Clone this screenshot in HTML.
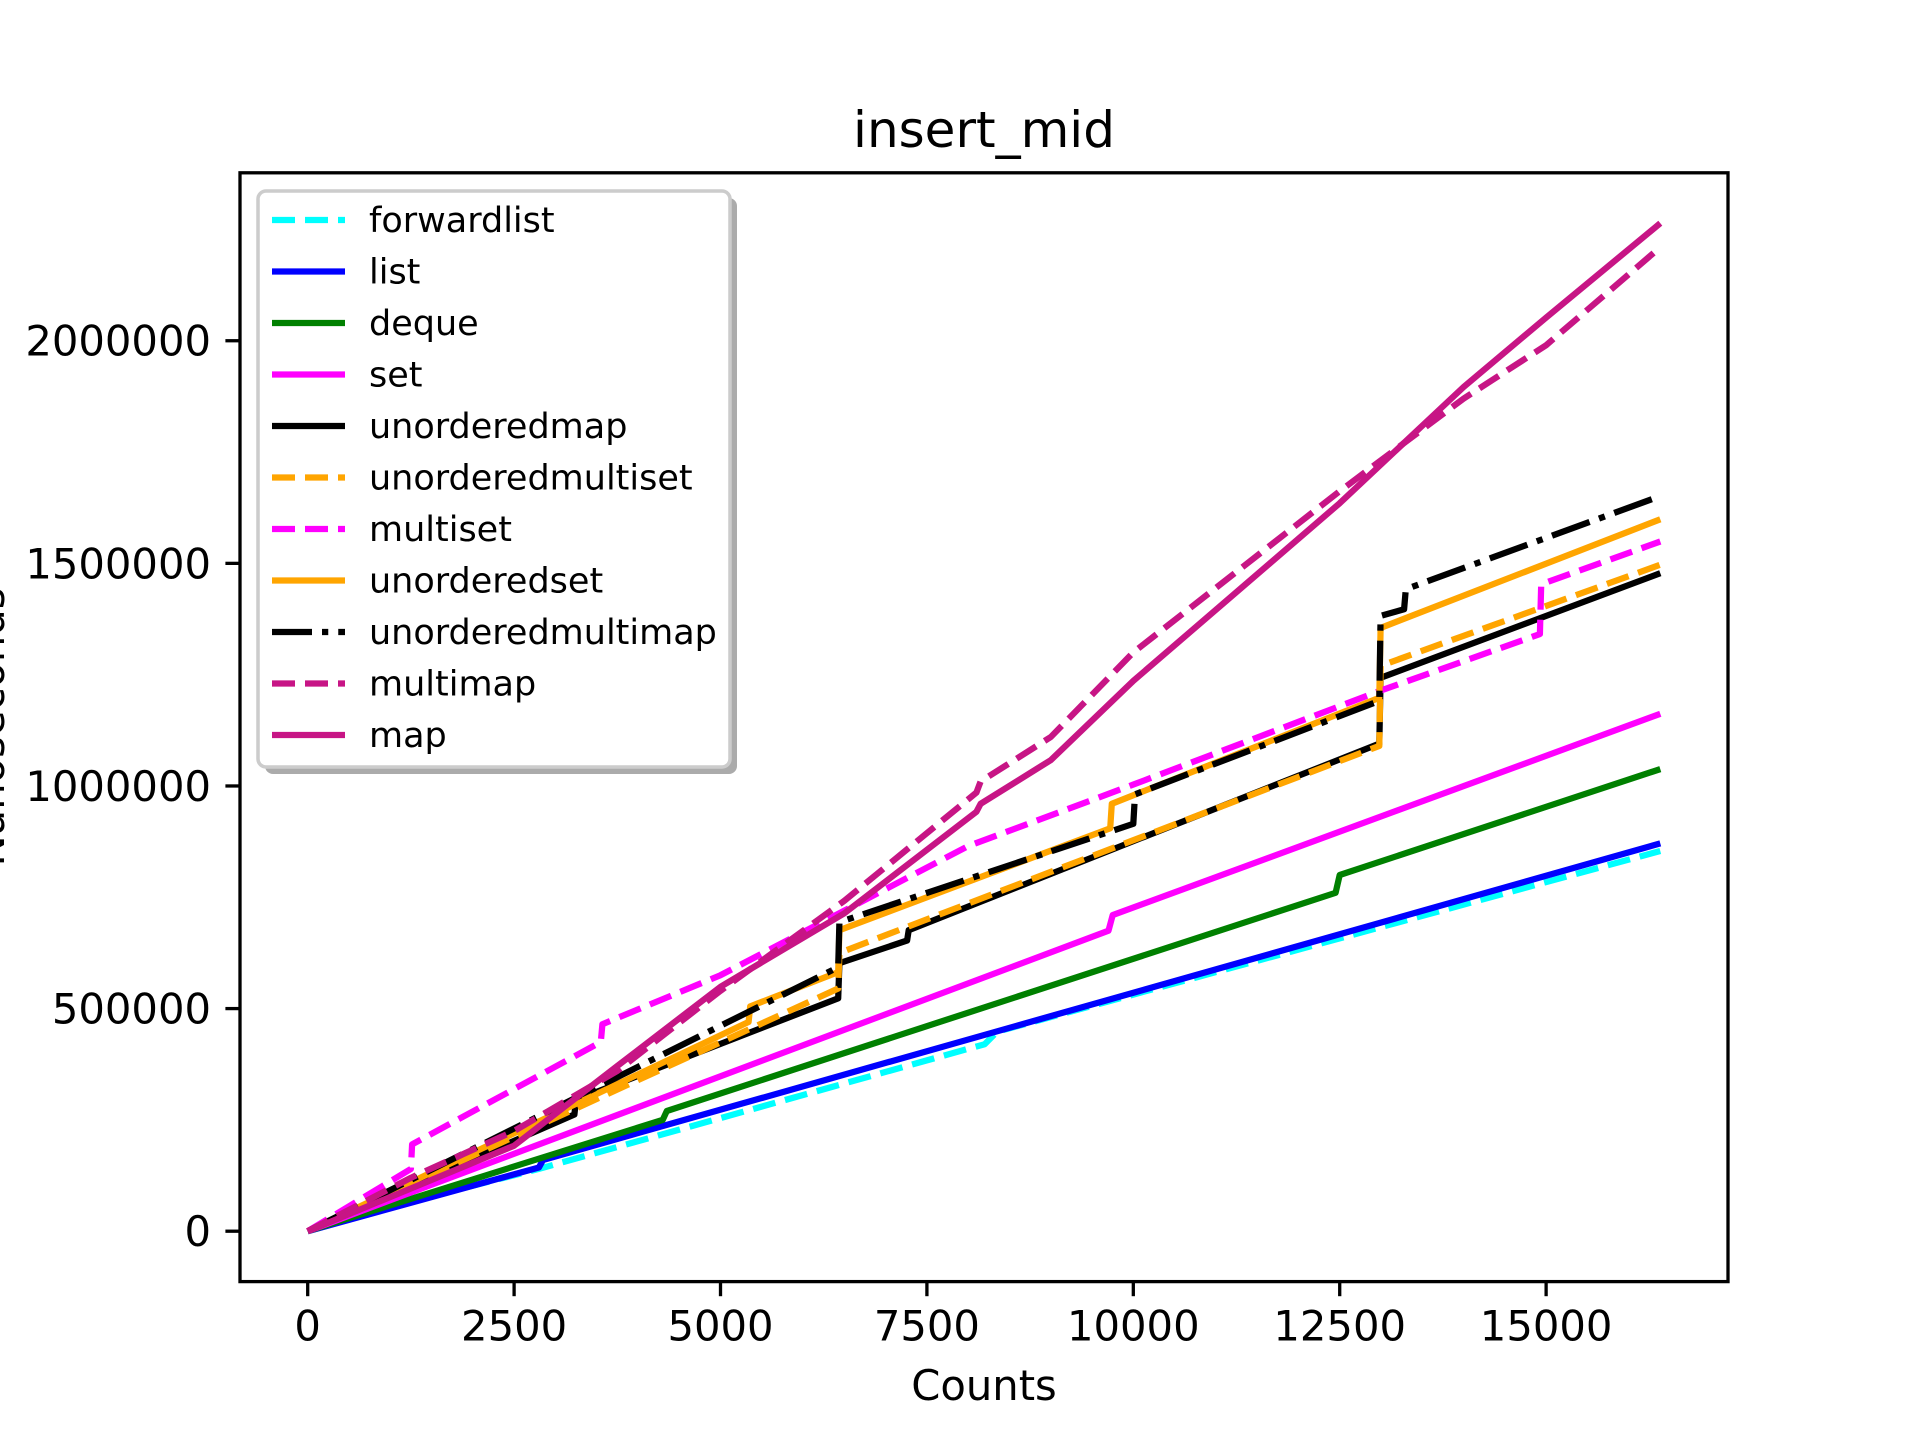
<!DOCTYPE html>
<html><head><meta charset="utf-8"><style>
html,body{margin:0;padding:0;background:#fff;}
svg{display:block;font-family:"DejaVu Sans","Liberation Sans",sans-serif;}
</style></head><body>
<svg id="chart" width="1920" height="1440" viewBox="0 0 1920 1440">
<rect x="0" y="0" width="1920" height="1440" fill="#fff"/>
<text x="984" y="147" font-size="50" text-anchor="middle">insert_mid</text>
<g id="xticks"></g>
<g id="yticks"></g>
<text x="984" y="1400" font-size="41.7" text-anchor="middle">Counts</text>
<text transform="translate(4,727) rotate(-90)" font-size="41.7" text-anchor="middle">Nanoseconds</text>
<clipPath id="clip"><rect x="240" y="172.8" width="1488" height="1108.8"/></clipPath>
<g id="series" clip-path="url(#clip)"></g>
<rect x="240" y="172.8" width="1488" height="1108.8" fill="none" stroke="#000" stroke-width="3.3"/>
<g id="legend">
<rect x="265" y="198" width="472" height="576" rx="8" fill="#888" opacity="0.7"/>
<rect x="258" y="191" width="472" height="576" rx="8" fill="#fff" stroke="#ccc" stroke-width="3.5"/>
</g>
</svg>
<script>
const xTicks = [0, 2500, 5000, 7500, 10000, 12500, 15000];
const yTicks = [0, 500000, 1000000, 1500000, 2000000];
const seriesNames = ["forwardlist","list","deque","set","unorderedmap","unorderedmultiset","multiset","unorderedset","unorderedmultimap","multimap","map"];
const forwardlistX = [0,1000,2800,8200,8350,16383];
const forwardlistY = [0,55000,140000,420000,448000,854000];
const listX = [0,2800,2850,16383];
const listY = [0,143000,160000,871000];
const dequeX = [0,4300,4350,12450,12500,16383];
const dequeY = [0,250000,270000,760000,800000,1038000];
const setX = [0,9700,9750,16383];
const setY = [0,675000,710000,1162000];
const unorderedmapX = [0,3230,3250,6425,6440,7260,7280,12980,12995,16383];
const unorderedmapY = [0,262000,295000,523000,602000,653000,676000,1095000,1243000,1478000];
const unorderedmultisetX = [0,6425,6440,12980,12995,16383];
const unorderedmultisetY = [0,545000,625000,1090000,1270000,1497000];
const multisetX = [0,1250,1265,3550,3570,5000,8000,10000,12980,14925,14940,16383];
const multisetY = [0,140000,195000,425000,465000,575000,865000,1003000,1213000,1341000,1453000,1549000];
const unorderedsetX = [0,5340,5360,6425,6440,9720,9740,12980,12995,16383];
const unorderedsetY = [0,470000,505000,582000,676000,905000,960000,1198000,1355000,1599000];
const unorderedmultimapX = [0,6425,6440,10000,10020,12980,12995,13280,13300,16383];
const unorderedmultimapY = [0,593000,694000,915000,981000,1191000,1382000,1397000,1442000,1651000];
const multimapX = [0,1250,2500,3750,5000,6500,8100,8150,9000,10000,12500,14000,15000,16383];
const multimapY = [0,120000,225000,360000,540000,742000,985000,1010000,1110000,1300000,1662000,1870000,1990000,2210000];
const mapX = [0,2500,3750,5000,6500,8100,8150,9000,10000,12500,14000,15000,16383];
const mapY = [0,192000,371000,549000,714000,942000,960000,1058000,1236000,1635000,1896000,2052000,2264000];

const NS='http://www.w3.org/2000/svg';
const X0=240,X1=1728,Y0=1281.6,Y1=172.8;
const xmin=-820,xmax=17203,ymin=-113200,ymax=2377200;
function sx(v){return X0+(v-xmin)/(xmax-xmin)*(X1-X0);}
function sy(v){return Y0-(v-ymin)/(ymax-ymin)*(Y0-Y1);}
function mk(tag,attrs,parent){const e=document.createElementNS(NS,tag);for(const k in attrs)e.setAttribute(k,attrs[k]);parent.appendChild(e);return e;}

const xg=document.getElementById('xticks');
xTicks.forEach(t=>{
  const l=mk('line',{x1:sx(t),x2:sx(t),y1:Y0,y2:Y0+14.6,stroke:'#000','stroke-width':3.3},xg);
  
  
  const tx=mk('text',{x:sx(t),y:Y0+59,'font-size':41.7,'text-anchor':'middle'},xg);
  tx.textContent=String(t);
  
  
});
const yg=document.getElementById('yticks');
yTicks.forEach(t=>{
  const l=mk('line',{x1:X0-14.6,x2:X0,y1:sy(t),y2:sy(t),stroke:'#000','stroke-width':3.3},yg);
  
  
  const tx=mk('text',{x:X0-29,y:sy(t)+15,'font-size':41.7,'text-anchor':'end'},yg);
  tx.textContent=String(t);
  
  
});

const seriesX={forwardlist:forwardlistX,list:listX,deque:dequeX,set:setX,unorderedmap:unorderedmapX,unorderedmultiset:unorderedmultisetX,multiset:multisetX,unorderedset:unorderedsetX,unorderedmultimap:unorderedmultimapX,multimap:multimapX,map:mapX};
const seriesY={forwardlist:forwardlistY,list:listY,deque:dequeY,set:setY,unorderedmap:unorderedmapY,unorderedmultiset:unorderedmultisetY,multiset:multisetY,unorderedset:unorderedsetY,unorderedmultimap:unorderedmultimapY,multimap:multimapY,map:mapY};
const colors={forwardlist:'#00ffff',list:'#0000ff',deque:'#008000',set:'#ff00ff',unorderedmap:'#000000',unorderedmultiset:'#ffa500',multiset:'#ff00ff',unorderedset:'#ffa500',unorderedmultimap:'#000000',multimap:'#c71585',map:'#c71585'};
const dashes={forwardlist:'23 10',unorderedmultiset:'23 10',multiset:'23 10',multimap:'23 10',unorderedmultimap:'40 10 6.25 10'};

const sg=document.getElementById('series');
const lg=document.getElementById('legend');
seriesNames.forEach((n,i)=>{
  const xs=seriesX[n],ys=seriesY[n];
  const pts=xs.map((x,j)=>sx(x).toFixed(1)+','+sy(ys[j]).toFixed(1)).join(' ');
  const attrs={points:pts,fill:'none',stroke:colors[n],'stroke-width':6.25,'stroke-linejoin':'round'};
  if(dashes[n])attrs['stroke-dasharray']=dashes[n];
  const p=mk('polyline',attrs,sg);
  
  
  const ry=220+i*51.5;
  const la={x1:272,x2:345,y1:ry,y2:ry,stroke:colors[n],'stroke-width':6.25};
  if(dashes[n])la['stroke-dasharray']=dashes[n];
  const h=mk('line',la,lg);
  
  
  const t=mk('text',{x:369,y:ry+12,'font-size':35},lg);
  t.textContent=n;
  
  
});
</script>
</body></html>
